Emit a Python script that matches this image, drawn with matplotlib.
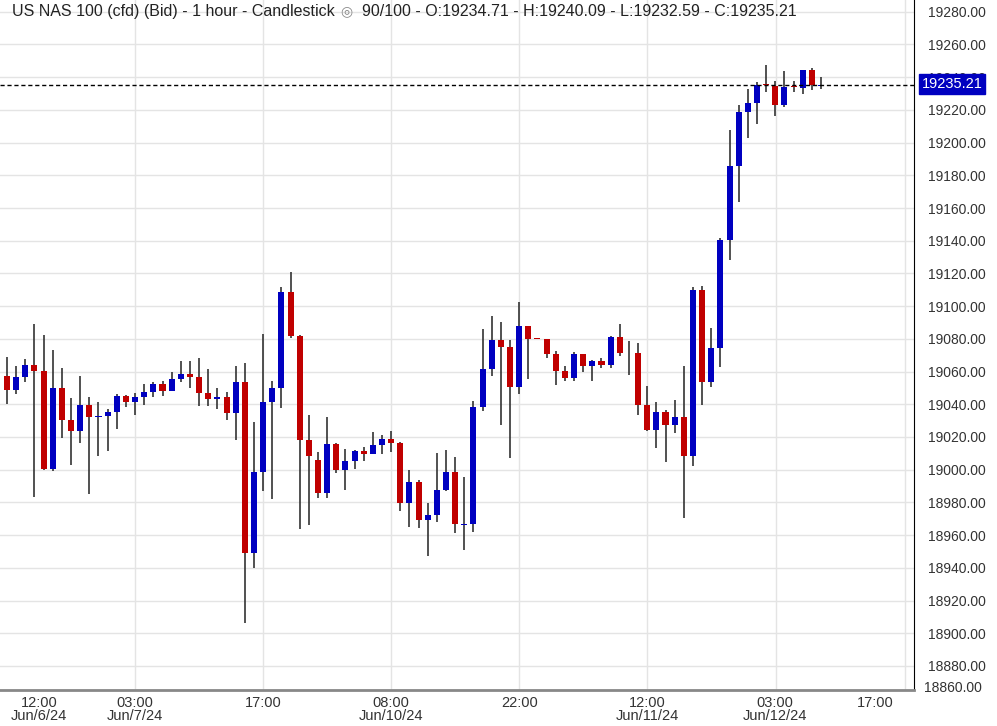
import matplotlib
matplotlib.use("Agg")
import matplotlib.pyplot as plt
import numpy as np

plt.rcParams["font.family"] = ["Liberation Sans", "DejaVu Sans"]

# hourly OHLC candles
opens = [19057, 19048.6, 19056.6, 19063.9, 19060.3, 19000.3, 19049.9, 19030.3, 19023.6, 19039.5,
         19032.3, 19032.7, 19035.2, 19045, 19041.3, 19044.4, 19047.4, 19052.3, 19048, 19055.4,
         19058.4, 19056.6, 19046.8, 19043.1, 19044.4, 19034.6, 19053.5, 18948.9, 18998.5, 19041.3,
         19049.9, 19108.6, 19081.7, 19018.1, 19006, 18986, 19015.8, 18999.9, 19005.4, 19011.5,
         19009.7, 19015.2, 19018.9, 19016.4, 18979.9, 18992.6, 18969.5, 18972.4, 18987.7, 18998.7,
         18966.2, 18966.5, 19038.4, 19061.7, 19079.4, 19075.1, 19050.7, 19088, 19080, 19079.8,
         19070.8, 19060.4, 19056.2, 19070.8, 19063.5, 19066.6, 19064.1, 19081.2, 19071.3, 19071.3,
         19039.7, 19024.4, 19035.3, 19027.4, 19032.3, 19008.4, 19109.9, 19053.7, 19074.5, 19140.5,
         19185.8, 19218.8, 19224.3, 19235.5, 19234.7, 19223.3, 19234.2, 19233.5, 19244.5, 19234.71]
closes = [19049, 19056.6, 19063.9, 19060.3, 19000.3, 19049.9, 19030.3, 19023.6, 19039.5, 19032.1,
          19032.6, 19035.2, 19045, 19041.3, 19044.4, 19047.4, 19052.3, 19048, 19055.4, 19058.4,
          19056.6, 19046.8, 19043.1, 19044.4, 19034.6, 19053.5, 18948.9, 18998.5, 19041.3, 19049.9,
          19108.6, 19081.7, 19018.1, 19008.3, 18986, 19015.8, 18999.9, 19005.4, 19011.5, 19009.7,
          19015.2, 19018.9, 19016.4, 18979.9, 18992.6, 18969.5, 18972.4, 18987.7, 18998.7, 18966.5,
          18966.5, 19038.4, 19061.7, 19079.4, 19075.1, 19050.7, 19088, 19080, 19079.8, 19070.8,
          19060.4, 19056.2, 19070.8, 19063.5, 19066.6, 19064.1, 19081.2, 19071.5, 19071.1, 19039.7,
          19024.4, 19035.4, 19027.4, 19032.3, 19008.4, 19109.9, 19053.7, 19074.5, 19140.5, 19185.8,
          19218.8, 19224.3, 19235.3, 19235.3, 19223.3, 19234.1, 19234.0, 19244.5, 19235.3, 19235.21]
highs = [19069, 19063.3, 19067.6, 19089, 19082.3, 19073.1, 19062.1, 19043.8, 19057.2, 19044.4,
         19041.3, 19037, 19046.2, 19045.6, 19046.8, 19052.3, 19053.5, 19054.1, 19059.7, 19066.4,
         19066.4, 19068.2, 19061.5, 19049.9, 19047.4, 19063.3, 19065.2, 19029.1, 19082.9, 19054.1,
         19111.6, 19120.8, 19082.3, 19033.4, 19010.9, 19032.3, 19016.4, 19012.7, 19012.1, 19014,
         19023.1, 19021.3, 19023.7, 19017, 18999.9, 18993.8, 18979.7, 19010.3, 19012.1, 19007.8,
         18995.6, 19042.1, 19086.1, 19094.1, 19090.4, 19079.4, 19102.7, 19088, 19080, 19079.8,
         19072.7, 19063.5, 19072.1, 19070.8, 19067.2, 19068.4, 19081.9, 19089.2, 19078.8, 19077.6,
         19051.3, 19041.5, 19036.5, 19042.6, 19063.2, 19111.8, 19112.4, 19086.7, 19141.7, 19207.8,
         19223.1, 19232.9, 19237.1, 19247.5, 19237.8, 19243.9, 19237.8, 19244.5, 19245.7, 19240.09]
lows = [19040, 19046.2, 19053.5, 18983.6, 18999.7, 18999, 19019.3, 19002.8, 19016.2, 18985,
        19008.3, 19011.3, 19024.8, 19038.2, 19033.4, 19039.5, 19044.4, 19045, 19048, 19053.5,
        19049.9, 19038.9, 19038.9, 19037, 19030.3, 19018.1, 18906.1, 18939.8, 18986.9, 18982,
        19037.6, 19080.4, 18963.6, 18966, 18982.4, 18982.4, 18997.7, 18987.7, 19000.5, 19005.4,
        19009.7, 19009.7, 19010.9, 18974.8, 18965.2, 18964.6, 18947.5, 18968.3, 18987.1, 18961.6,
        18951.2, 18962.2, 19036, 19057.4, 19027.4, 19007.2, 19046.4, 19055.6, 19079.8, 19068.4,
        19051.9, 19054.3, 19054.3, 19059.8, 19054.3, 19062.3, 19062.3, 19069.6, 19058, 19033.5,
        19023.8, 19013.4, 19004.7, 19022.5, 18970.5, 19002.3, 19039.6, 19050.6, 19062.8, 19128.3,
        19163.8, 19202.9, 19211.5, 19231, 19216.3, 19221.9, 19231, 19229.8, 19232.3, 19232.59]

tick_pos = [3.5, 14, 28, 42, 56, 70, 84, 94.9]
tick_labels = ["12:00\nJun/6/24", "03:00\nJun/7/24", "17:00", "08:00\nJun/10/24",
               "22:00", "12:00\nJun/11/24", "03:00\nJun/12/24", "17:00"]
grid_x = [14, 28, 42, 56, 70, 84.1, 98.2]
y_ticks = list(range(18880, 19281, 20))
last_price = 19235.21

UP = "#0000c0"
DOWN = "#c00000"

fig = plt.figure(figsize=(9.97, 7.26), dpi=100)
ax = fig.add_axes([0, 1 - 690 / 726, 914 / 997, 690 / 726])

for x in grid_x:
    ax.axvline(x, color="#e4e4e4", lw=1, zorder=0)
for y in y_ticks:
    ax.axhline(y, color="#e4e4e4", lw=1, zorder=0)

idx = np.arange(len(opens))
for i in idx:
    o, c, h, l = opens[i], closes[i], highs[i], lows[i]
    col = UP if c >= o else DOWN
    ax.vlines(i, l, h, color="#333333", lw=1.2, zorder=2)
    bottom = min(o, c)
    height = max(abs(c - o), 0.5)
    ax.bar(i, height, bottom=bottom, width=0.66, color=col, zorder=3)

ax.axhline(last_price, color="black", lw=1, ls=(0, (3, 2)), zorder=4)

ax.set_xlim(-0.77, 99.17)
ax.set_ylim(18865.3, 19287.2)

ax.yaxis.tick_right()
ax.set_yticks(y_ticks)
ax.set_yticklabels([f"{v:.2f}" for v in y_ticks], fontsize=10, color="#333333")
ax.tick_params(axis="y", length=0, pad=10)
ax.set_xticks(tick_pos)
ax.set_xticklabels(tick_labels, fontsize=10.5, color="#333333", linespacing=0.95)
ax.tick_params(axis="x", length=0, pad=4)

for side in ["top", "left"]:
    ax.spines[side].set_visible(False)
ax.spines["right"].set_color("black")
ax.spines["bottom"].set_color("#888888")
ax.spines["bottom"].set_linewidth(2)

# bottom price label sits above the clipped axis edge
fig.text(924 / 997, 1 - 688 / 726, "18860.00", ha="left", va="center", fontsize=10, color="#333333")

# last price tag
fig.text(952 / 997, 1 - 84 / 726, f"{last_price:.2f}", ha="center", va="center",
         fontsize=10.5, color="white", zorder=10,
         bbox=dict(boxstyle="square,pad=0.2", fc="#0000c0", ec="#0000c0"))

ax.text(0.013, 0.994, "US NAS 100 (cfd) (Bid) - 1 hour - Candlestick", transform=ax.transAxes,
        ha="left", va="top", fontsize=11.5, color="#222222")
ax.text(0.372, 0.994, "\u25ce", transform=ax.transAxes, ha="left", va="top", fontsize=10, color="#888888")
ax.text(0.396, 0.994, "90/100 - O:19234.71 - H:19240.09 - L:19232.59 - C:19235.21",
        transform=ax.transAxes, ha="left", va="top", fontsize=11.5, color="#222222")

fig.savefig("out.png", dpi=100)
